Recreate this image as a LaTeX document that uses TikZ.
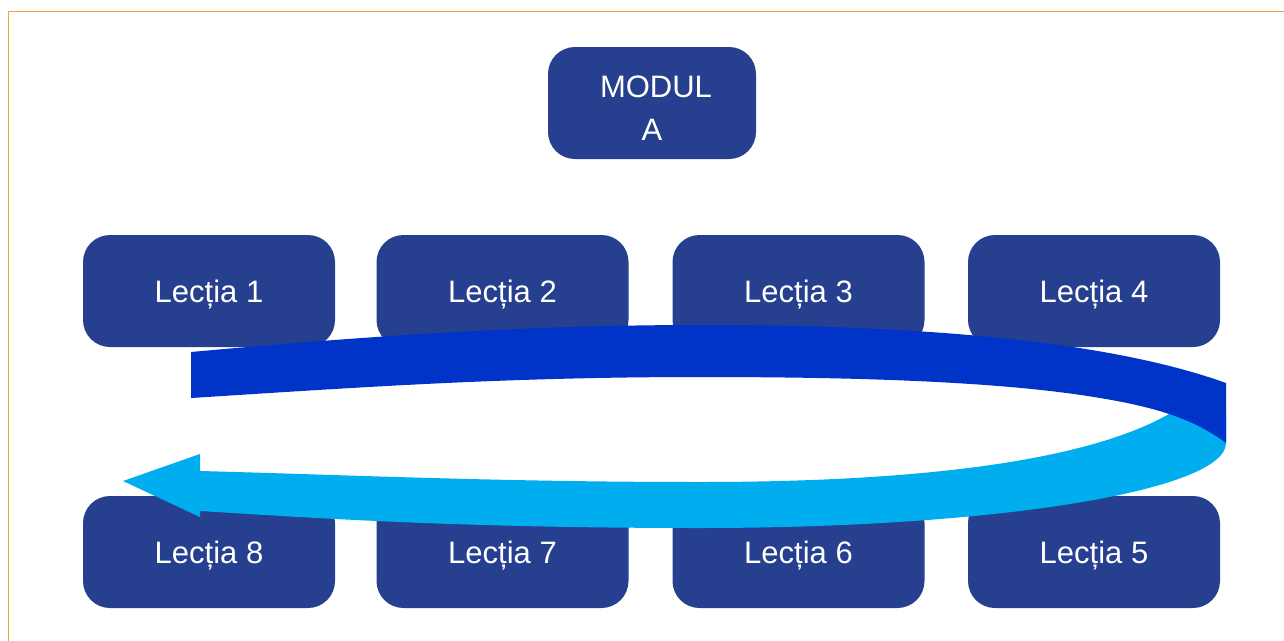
\documentclass[tikz,border=0pt]{standalone}
\usepackage{fontspec}
\setmainfont{Liberation Sans}
\definecolor{boxblue}{RGB}{38,64,143}
\definecolor{darkband}{RGB}{0,51,200}
\definecolor{lightband}{RGB}{0,174,239}
\definecolor{frameorange}{RGB}{247,160,48}
\begin{document}
\begin{tikzpicture}[x=1pt,y=-1pt,
  boxstyle/.style={rounded corners=27pt, fill=boxblue, text=white,
    minimum width=252pt, minimum height=112pt, inner sep=0pt,
    font=\fontsize{31}{43}\selectfont, text height=22.2pt, text depth=0pt}]
\useasboundingbox (0,0) rectangle (1284,640);
\fill[white] (0,0) rectangle (1284,640);
\draw[frameorange, line width=1.5pt] (8.5,650) -- (8.5,11.5) -- (1295,11.5);

\node[boxstyle, minimum width=208pt, text height=74.2pt] (modul) at (652,103)
  {\begin{tabular}[b]{@{}c@{}}\hspace*{8pt}MODUL\\A\end{tabular}};

\node[boxstyle] (l1) at (209,291) {Lecția 1};
\node[boxstyle] (l2) at (502.5,291) {Lecția 2};
\node[boxstyle] (l3) at (798.5,291) {Lecția 3};
\node[boxstyle] (l4) at (1094,291) {Lecția 4};
\node[boxstyle] (l8) at (209,552) {Lecția 8};
\node[boxstyle] (l7) at (502.5,552) {Lecția 7};
\node[boxstyle] (l6) at (798.5,552) {Lecția 6};
\node[boxstyle] (l5) at (1094,552) {Lecția 5};

% light (lower, returning) band with arrow head
\fill[lightband] (200,471) .. controls (350,475) and (500,482) .. (700,482)
  .. controls (950,482) and (1120,455) .. (1190,400)
  -- (1226,410) -- (1226,443)
  .. controls (1226,490) and (1000,528) .. (700,528)
  .. controls (450,528) and (300,517) .. (200,511)
  -- (200,517) -- (123,481) -- (200,454) -- cycle;

% dark (upper) band
\fill[darkband] (191,352) .. controls (400,333) and (550,325) .. (700,325)
  .. controls (950,325) and (1120,345) .. (1226,383)
  -- (1226,443)
  .. controls (1195,420) and (1160,408) .. (1100,398)
  .. controls (1000,381) and (850,377) .. (700,377)
  .. controls (500,377) and (350,388) .. (191,398)
  -- cycle;
\end{tikzpicture}
\end{document}
